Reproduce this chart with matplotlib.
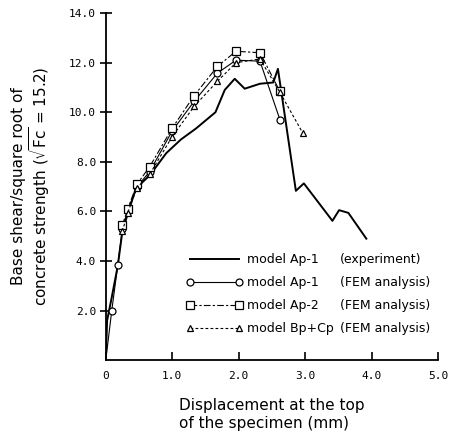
import matplotlib
matplotlib.use('Agg')
from matplotlib import pyplot as plt

# experiment, model Ap-1
exp_x = [0, 0.02, 0.08, 0.18, 0.25, 0.33, 0.45, 0.56, 0.66, 0.91, 1.13, 1.36, 1.65, 1.79,
         1.94, 2.09, 2.32, 2.52, 2.59, 2.86, 2.98, 3.41, 3.51, 3.65, 3.92]
exp_y = [0, 1.6, 2.4, 3.8, 5.2, 5.9, 6.9, 7.2, 7.45, 8.35, 8.9, 9.35, 10.0, 10.9,
         11.35, 10.95, 11.15, 11.2, 11.75, 6.83, 7.13, 5.62, 6.05, 5.94, 4.9]

# FEM analysis, model Ap-1
ap1_x = [0, 0.09, 0.18, 0.25, 0.33, 0.47, 0.66, 1.0, 1.33, 1.68, 1.96, 2.32, 2.62]
ap1_y = [0, 2.0, 3.83, 5.3, 6.05, 7.0, 7.6, 9.25, 10.44, 11.58, 12.1, 12.06, 9.7]

# FEM analysis, model Ap-2
ap2_x = [0.25, 0.33, 0.47, 0.66, 1.0, 1.33, 1.68, 1.96, 2.32, 2.62]
ap2_y = [5.45, 6.1, 7.1, 7.8, 9.36, 10.67, 11.85, 12.46, 12.4, 10.84]

# FEM analysis, model Bp+Cp
bpcp_x = [0.25, 0.33, 0.47, 0.66, 1.0, 1.33, 1.68, 1.96, 2.32, 2.62, 2.96]
bpcp_y = [5.2, 5.95, 6.95, 7.5, 9.02, 10.24, 11.25, 12.0, 12.15, 10.8, 9.18]

legend_models = ['model Ap-1', 'model Ap-1', 'model Ap-2', 'model Bp+Cp']
legend_notes = ['(experiment)', '(FEM analysis)', '(FEM analysis)', '(FEM analysis)']

x_ticks = [0, 1, 2, 3, 4, 5]
x_labels = ['0', '1.0', '2.0', '3.0', '4.0', '5.0']
y_ticks = [2, 4, 6, 8, 10, 12, 14]
y_labels = ['2.0', '4.0', '6.0', '8.0', '10.0', '12.0', '14.0']

fig = plt.figure(figsize=(4.54, 4.36), dpi=100)
ax = fig.add_axes([0.233, 0.174, 0.732, 0.796])

h1, = ax.plot(exp_x, exp_y, color='black', lw=1.4)
h2, = ax.plot(ap1_x, ap1_y, color='black', lw=0.8, marker='o', ms=5,
              mfc='white', mec='black', mew=0.9, markevery=slice(1, None))
h3, = ax.plot(ap2_x, ap2_y, color='black', lw=0.8, dashes=(6, 2, 2, 2), marker='s', ms=5.5,
              mfc='white', mec='black', mew=0.9)
h4, = ax.plot(bpcp_x, bpcp_y, color='black', lw=0.8, dashes=(2.5, 2), marker='^', ms=4.5,
              mfc='white', mec='black', mew=0.9)

ax.set_xlim(0, 5)
ax.set_ylim(0, 14)
ax.spines['top'].set_visible(False)
ax.spines['right'].set_visible(False)
ax.spines['left'].set_linewidth(1.3)
ax.spines['bottom'].set_linewidth(1.3)

ax.set_xticks(x_ticks)
ax.set_xticklabels(x_labels, family='DejaVu Sans Mono', fontsize=8)
ax.set_yticks(y_ticks)
ax.set_yticklabels(y_labels, family='DejaVu Sans Mono', fontsize=8)
ax.tick_params(axis='y', direction='inout', length=8, width=1.2, pad=3)
ax.tick_params(axis='x', direction='in', length=6, width=1.2, pad=8)

ax.set_xlabel('Displacement at the top\nof the specimen (mm)', fontsize=11,
              multialignment='left', labelpad=12, linespacing=1.25)
ax.set_ylabel('Base shear/square root of\nconcrete strength ($\\sqrt{\\mathrm{Fc}}$ = 15.2)',
              fontsize=11, labelpad=12, linespacing=1.05)

leg = ax.legend([h1, h2, h3, h4], legend_models, loc='upper left',
                bbox_to_anchor=(0.227, 0.322), frameon=False, fontsize=9,
                handlelength=4.5, handletextpad=0.4, labelspacing=0.8, numpoints=2,
                borderaxespad=0)

# second legend column, lined up with the legend rows
fig.canvas.draw()
inv = ax.transAxes.inverted()
for txt, note in zip(leg.get_texts(), legend_notes):
    bb = txt.get_window_extent()
    ny = inv.transform((0, (bb.y0 + bb.y1) / 2))[1]
    ax.text(0.705, ny, note, transform=ax.transAxes, fontsize=9, va='center')

fig.savefig('out.png', dpi=100)
